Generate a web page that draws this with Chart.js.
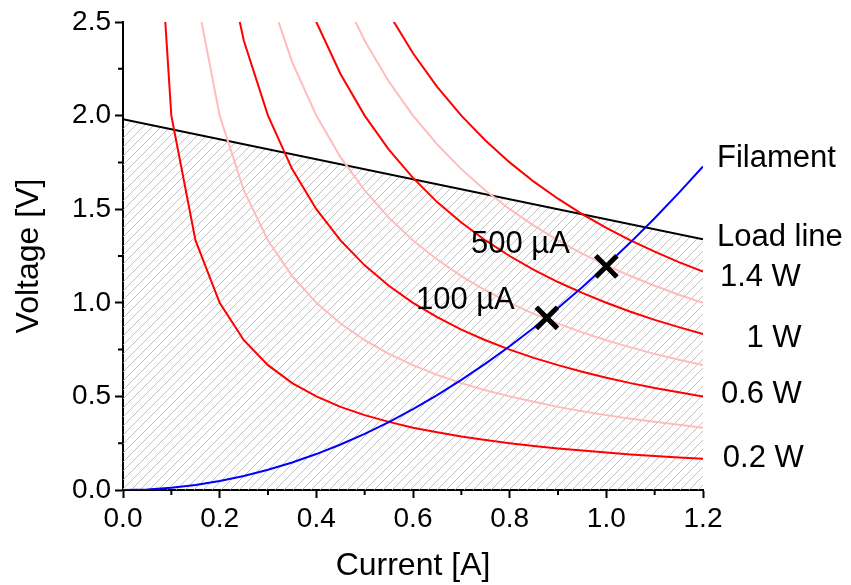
<!DOCTYPE html>
<html>
<head>
<meta charset="utf-8">
<script src="https://cdn.jsdelivr.net/npm/chart.js@4.4.0/dist/chart.umd.min.js"></script>
<style>
  html, body { margin: 0; padding: 0; background: #fff; }
  #wrap { width: 851px; height: 585px; }
</style>
</head>
<body>
<div id="wrap"><canvas id="chart" width="851" height="585"></canvas></div>
<script>
// Current samples [A] for the constant power curves
const currents = [0.05, 0.10, 0.15, 0.20, 0.25, 0.30, 0.35, 0.40, 0.45, 0.50, 0.55, 0.60,
                  0.65, 0.70, 0.75, 0.80, 0.85, 0.90, 0.95, 1.00, 1.05, 1.10, 1.15, 1.20];

// Voltage [V] along each constant power curve
const p02 = [4.0, 2.0, 1.333, 1.0, 0.8, 0.667, 0.571, 0.5, 0.444, 0.4, 0.364, 0.333,
             0.308, 0.286, 0.267, 0.25, 0.235, 0.222, 0.211, 0.2, 0.19, 0.182, 0.174, 0.167];
const p04 = [8.0, 4.0, 2.667, 2.0, 1.6, 1.333, 1.143, 1.0, 0.889, 0.8, 0.727, 0.667,
             0.615, 0.571, 0.533, 0.5, 0.471, 0.444, 0.421, 0.4, 0.381, 0.364, 0.348, 0.333];
const p06 = [12.0, 6.0, 4.0, 3.0, 2.4, 2.0, 1.714, 1.5, 1.333, 1.2, 1.091, 1.0,
             0.923, 0.857, 0.8, 0.75, 0.706, 0.667, 0.632, 0.6, 0.571, 0.545, 0.522, 0.5];
const p08 = [16.0, 8.0, 5.333, 4.0, 3.2, 2.667, 2.286, 2.0, 1.778, 1.6, 1.455, 1.333,
             1.231, 1.143, 1.067, 1.0, 0.941, 0.889, 0.842, 0.8, 0.762, 0.727, 0.696, 0.667];
const p10 = [20.0, 10.0, 6.667, 5.0, 4.0, 3.333, 2.857, 2.5, 2.222, 2.0, 1.818, 1.667,
             1.538, 1.429, 1.333, 1.25, 1.176, 1.111, 1.053, 1.0, 0.952, 0.909, 0.870, 0.833];
const p12 = [24.0, 12.0, 8.0, 6.0, 4.8, 4.0, 3.429, 3.0, 2.667, 2.4, 2.182, 2.0,
             1.846, 1.714, 1.6, 1.5, 1.412, 1.333, 1.263, 1.2, 1.143, 1.091, 1.043, 1.0];
const p14 = [28.0, 14.0, 9.333, 7.0, 5.6, 4.667, 4.0, 3.5, 3.111, 2.8, 2.545, 2.333,
             2.154, 2.0, 1.867, 1.75, 1.647, 1.556, 1.474, 1.4, 1.333, 1.273, 1.217, 1.167];

// Filament curve
const filamentI = [0, 0.05, 0.10, 0.15, 0.20, 0.25, 0.30, 0.35, 0.40, 0.45, 0.50, 0.55, 0.60,
                   0.65, 0.70, 0.75, 0.80, 0.85, 0.90, 0.95, 1.00, 1.05, 1.10, 1.15, 1.20];
const filamentV = [0, 0.003, 0.012, 0.027, 0.048, 0.075, 0.108, 0.147, 0.192, 0.243, 0.3, 0.363, 0.432,
                   0.507, 0.588, 0.675, 0.768, 0.867, 0.972, 1.083, 1.2, 1.323, 1.452, 1.587, 1.728];

// Load line
const loadI = [0, 1.2];
const loadV = [1.98, 1.34];

// Operating points
const markI = [0.877, 1.0];
const markV = [0.92, 1.195];

// Text annotations [text, current, voltage]
const notes = [
  ['Filament', 1.229, 1.725],
  ['Load line', 1.229, 1.303],
  ['1.4 W', 1.235, 1.09],
  ['1 W', 1.29, 0.764],
  ['0.6 W', 1.237, 0.465],
  ['0.2 W', 1.241, 0.123],
  ['500 µA', 0.72, 1.266],
  ['100 µA', 0.606, 0.967]
];

const FONT = "'Liberation Sans', Arial, sans-serif";

const pts = (xs, ys) => xs.map((x, i) => ({ x: x, y: ys[i] }));

// Diagonal hatch pattern
function hatch() {
  const c = document.createElement('canvas');
  c.width = 9; c.height = 9;
  const g = c.getContext('2d');
  g.strokeStyle = '#b4b4b4';
  g.lineWidth = 0.8;
  g.beginPath();
  g.moveTo(-1, 10); g.lineTo(10, -1);
  g.moveTo(-1, 1); g.lineTo(1, -1);
  g.moveTo(8, 10); g.lineTo(10, 8);
  g.stroke();
  return g.createPattern(c, 'repeat');
}

const ctx = document.getElementById('chart').getContext('2d');

function curve(data, color) {
  return { data: pts(currents, data), borderColor: color, borderWidth: 2,
           showLine: true, pointRadius: 0, fill: false };
}

// Minor ticks and annotations
const extras = {
  id: 'extras',
  afterDraw(chart) {
    const c = chart.ctx, xs = chart.scales.x, ys = chart.scales.y;
    const a = chart.chartArea;
    c.save();
    c.strokeStyle = '#000';
    c.lineWidth = 2;
    c.beginPath();
    for (let i = 1; i < 12; i += 2) {
      const px = xs.getPixelForValue(i / 10);
      c.moveTo(px, a.bottom); c.lineTo(px, a.bottom + 5);
    }
    for (let i = 1; i < 10; i += 2) {
      const py = ys.getPixelForValue(i / 4);
      c.moveTo(a.left, py); c.lineTo(a.left - 5, py);
    }
    c.stroke();
    c.fillStyle = '#000';
    c.font = '31px ' + FONT;
    c.textBaseline = 'alphabetic';
    c.textAlign = 'left';
    notes.forEach(n => {
      c.fillText(n[0], xs.getPixelForValue(n[1]), ys.getPixelForValue(n[2]));
    });
    c.restore();
  }
};

new Chart(ctx, {
  type: 'scatter',
  data: {
    datasets: [
      { data: pts(markI, markV), pointStyle: 'crossRot', pointRadius: 15, pointHoverRadius: 15,
        borderColor: '#000', backgroundColor: '#000', borderWidth: 5, showLine: false },
      { data: pts(filamentI, filamentV), borderColor: '#0000ff', borderWidth: 2,
        showLine: true, pointRadius: 0, fill: false },
      curve(p14, '#ff0000'),
      curve(p12, '#ffbcbc'),
      curve(p10, '#ff0000'),
      curve(p08, '#ffbcbc'),
      curve(p06, '#ff0000'),
      curve(p04, '#ffbcbc'),
      curve(p02, '#ff0000'),
      { data: pts(loadI, loadV), borderColor: '#000', borderWidth: 2, showLine: true,
        pointRadius: 0, fill: 'origin', backgroundColor: hatch() }
    ]
  },
  options: {
    responsive: false,
    animation: false,
    events: [],
    layout: { padding: { top: 22, right: 148, left: 0, bottom: 0 } },
    plugins: { legend: { display: false }, tooltip: { enabled: false } },
    scales: {
      x: {
        type: 'linear', min: 0, max: 1.2,
        afterFit: s => { s.height = 95; },
        ticks: {
          stepSize: 0.2, color: '#000', padding: 4, maxRotation: 0,
          font: { family: FONT, size: 28 },
          callback: v => v.toFixed(1)
        },
        grid: { drawOnChartArea: false, tickLength: 8, tickWidth: 2, tickColor: '#000' },
        border: { color: '#000', width: 2 },
        title: { display: true, text: 'Current [A]', color: '#000',
                 font: { family: FONT, size: 32 }, padding: { top: 0, bottom: 0 } }
      },
      y: {
        type: 'linear', min: 0, max: 2.5,
        afterFit: s => { s.width = 123; },
        ticks: {
          stepSize: 0.5, color: '#000', padding: 4,
          font: { family: FONT, size: 28 },
          callback: v => v.toFixed(1)
        },
        grid: { drawOnChartArea: false, tickLength: 8, tickWidth: 2, tickColor: '#000' },
        border: { color: '#000', width: 2 },
        title: { display: true, text: 'Voltage [V]', color: '#000',
                 font: { family: FONT, size: 32 }, padding: { top: 10, bottom: 0 } }
      }
    }
  },
  plugins: [extras]
});
</script>
</body>
</html>
